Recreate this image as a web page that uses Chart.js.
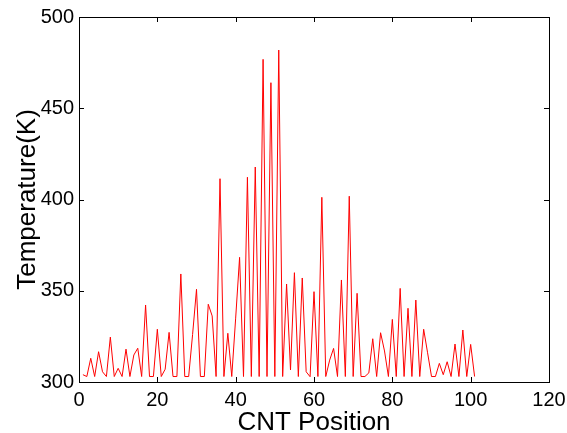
<!DOCTYPE html>
<html>
<head>
<meta charset="utf-8">
<script src="https://cdn.jsdelivr.net/npm/chart.js@4.4.1/dist/chart.umd.min.js"></script>
<style>
    html, body { margin: 0; padding: 0; background: #fff; }
    #temp-graph { display: block; }
</style>
</head>
<body>
<canvas id="temp-graph" width="567" height="433"></canvas>
<script>
// CNT positions 1..101
let positions = [];
for (let i = 1; i <= 101; i++) positions.push(i);

let temperatures = [
    304, 303, 313, 303, 316.6, 305.6, 303, 324.6, 303, 307.5,
    303, 318, 303, 314.8, 318.5, 303, 342.2, 303, 303, 328.9,
    303, 307, 327.2, 303, 303, 359.2, 303, 303, 326, 350.8,
    303, 303, 342.6, 336.2, 303, 411.4, 303, 326.7, 303, 335,
    368.3, 303, 412.2, 303, 417.8, 303, 476.8, 303, 464, 303,
    481.9, 303, 353.7, 306.6, 359.9, 303, 357, 305.6, 302.9, 349.5,
    303, 401.2, 303, 312, 318.4, 303, 355.9, 303, 401.8, 303,
    348.6, 303, 303, 305, 323.7, 303, 327, 317, 303, 334.3,
    303, 351.3, 303, 340.4, 303, 344.9, 303, 328.9, 316, 303,
    303, 310.2, 304, 311.1, 303, 320.8, 303, 328.5, 303, 320.6,
    303
];

let xTicks = [0, 20, 40, 60, 80, 100, 120];
let yTicks = [300, 350, 400, 450, 500];

const FONT = 'Liberation Sans, Arial, Helvetica, sans-serif';

let points = positions.map(function (p, i) {
    return {x: p, y: temperatures[i]};
});

// box around the plot with inward tick marks (matlab style)
const boxPlugin = {
    id: 'boxPlugin',
    afterDatasetsDraw: function (chart) {
        const ctx = chart.ctx;
        const a = chart.chartArea;
        const xs = chart.scales.x;
        const ys = chart.scales.y;
        const len = 5;
        ctx.save();
        ctx.strokeStyle = '#000';
        ctx.lineWidth = 1;
        ctx.beginPath();
        xTicks.forEach(function (t) {
            const px = Math.round(xs.getPixelForValue(t)) + 0.5;
            ctx.moveTo(px, a.bottom);
            ctx.lineTo(px, a.bottom - len);
            ctx.moveTo(px, a.top);
            ctx.lineTo(px, a.top + len);
        });
        yTicks.forEach(function (t) {
            const py = Math.round(ys.getPixelForValue(t)) + 0.5;
            ctx.moveTo(a.left, py);
            ctx.lineTo(a.left + len, py);
            ctx.moveTo(a.right, py);
            ctx.lineTo(a.right - len, py);
        });
        ctx.stroke();
        ctx.strokeRect(Math.round(a.left) + 0.5, Math.round(a.top) + 0.5,
            Math.round(a.right - a.left), Math.round(a.bottom - a.top));
        ctx.restore();
    }
};

new Chart(document.getElementById('temp-graph').getContext('2d'), {
    type: 'line',
    data: {
        datasets: [{
            data: points,
            borderColor: '#ff0000',
            borderWidth: 1,
            pointRadius: 0,
            tension: 0,
            fill: false
        }]
    },
    options: {
        responsive: false,
        animation: false,
        maintainAspectRatio: false,
        layout: {
            padding: {top: 17, right: 18, left: 0, bottom: 0}
        },
        plugins: {
            legend: {display: false},
            tooltip: {enabled: false}
        },
        scales: {
            x: {
                type: 'linear',
                min: 0,
                max: 120,
                afterFit: function (s) {
                    s.height = 51;
                    s.paddingLeft = 0;
                    s.paddingRight = 0;
                },
                afterBuildTicks: function (s) {
                    s.ticks = xTicks.map(function (v) { return {value: v}; });
                },
                grid: {display: false, drawTicks: false},
                border: {display: false},
                ticks: {
                    color: '#000',
                    padding: 6,
                    maxRotation: 0,
                    font: {family: FONT, size: 20}
                },
                title: {
                    display: true,
                    text: 'CNT Position',
                    color: '#000',
                    padding: {top: 0, bottom: 0},
                    font: {family: FONT, size: 26, lineHeight: 0.75}
                }
            },
            y: {
                min: 300,
                max: 500,
                afterFit: function (s) {
                    s.width = 79;
                    s.paddingTop = 0;
                    s.paddingBottom = 0;
                },
                afterBuildTicks: function (s) {
                    s.ticks = yTicks.map(function (v) { return {value: v}; });
                },
                grid: {display: false, drawTicks: false},
                border: {display: false},
                ticks: {
                    color: '#000',
                    padding: 5,
                    font: {family: FONT, size: 20}
                },
                title: {
                    display: true,
                    text: 'Temperature(K)',
                    color: '#000',
                    padding: {top: 15, bottom: 0},
                    font: {family: FONT, size: 26, lineHeight: 1}
                }
            }
        }
    },
    plugins: [boxPlugin]
});
</script>
</body>
</html>
